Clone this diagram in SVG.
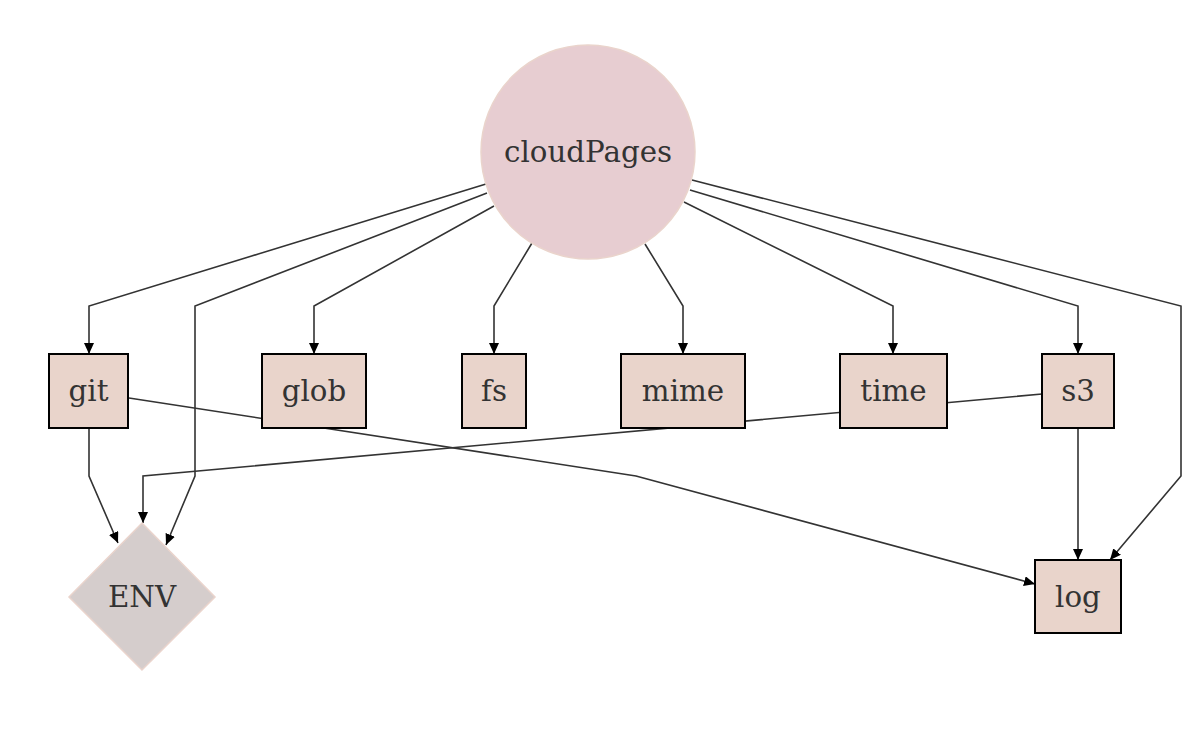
<svg xmlns="http://www.w3.org/2000/svg" width="1200" height="754" viewBox="0 0 1200 754">
<style>
.edge{fill:none;stroke:#333;stroke-width:1.6}
.box{fill:#e9d4cb;stroke:#000;stroke-width:2}
.lbl{font-family:"DejaVu Serif",serif;font-size:29.3px;fill:#333;text-anchor:middle;dominant-baseline:central}
</style>
<defs>
<marker id="arr" markerUnits="userSpaceOnUse" markerWidth="12" markerHeight="10" refX="11" refY="5" orient="auto">
<path d="M0,0 L11,5 L0,10 Z" fill="#000"/>
</marker>
</defs>
<rect width="1200" height="754" fill="#fff"/>
<g id="connectors">
<path class="edge" marker-end="url(#arr)" d="M486,184 L89,306 L89,354"/>
<path class="edge" marker-end="url(#arr)" d="M487,193 L195,306 L195,476 L166,545"/>
<path class="edge" marker-end="url(#arr)" d="M494,206 L314,306 L314,354"/>
<path class="edge" marker-end="url(#arr)" d="M532,243 L494,306 L494,354"/>
<path class="edge" marker-end="url(#arr)" d="M645,244 L683,306 L683,354"/>
<path class="edge" marker-end="url(#arr)" d="M684,202 L893,306 L893,354"/>
<path class="edge" marker-end="url(#arr)" d="M690,190 L1078,306 L1078,354"/>
<path class="edge" marker-end="url(#arr)" d="M692,180 L1181,306 L1181,476 L1110,560"/>
<path class="edge" marker-end="url(#arr)" d="M89,428 L89,476 L118,543"/>
<path class="edge" marker-end="url(#arr)" d="M129,398 L636,476 L1035,584"/>
<path class="edge" marker-end="url(#arr)" d="M1042,394 L143,476 L143,523"/>
<path class="edge" marker-end="url(#arr)" d="M1078,428 L1078,560"/>
</g>
<g id="cloudPages">
<circle cx="588" cy="152" r="107" fill="#e7cdd1" stroke="#ead4cc" stroke-width="1.5"/>
<text class="lbl" x="588" y="152">cloudPages</text>
</g>
<g id="git">
<rect class="box" x="49" y="354" width="79" height="74"/>
<text class="lbl" x="88.5" y="391">git</text>
</g>
<g id="glob">
<rect class="box" x="262" y="354" width="104" height="74"/>
<text class="lbl" x="314" y="391">glob</text>
</g>
<g id="fs">
<rect class="box" x="462" y="354" width="64" height="74"/>
<text class="lbl" x="494" y="391">fs</text>
</g>
<g id="mime">
<rect class="box" x="621" y="354" width="124" height="74"/>
<text class="lbl" x="683" y="391">mime</text>
</g>
<g id="time">
<rect class="box" x="840" y="354" width="107" height="74"/>
<text class="lbl" x="893.5" y="391">time</text>
</g>
<g id="s3">
<rect class="box" x="1042" y="354" width="72" height="74"/>
<text class="lbl" x="1078" y="391">s3</text>
</g>
<g id="log">
<rect class="box" x="1035" y="560" width="86" height="73"/>
<text class="lbl" x="1078" y="597">log</text>
</g>
<g id="ENV">
<polygon points="142,523 215,597 142,670 69,597" fill="#d5cdcc" stroke="#ead4cc" stroke-width="1.5"/>
<text class="lbl" x="142" y="597">ENV</text>
</g>
</svg>
